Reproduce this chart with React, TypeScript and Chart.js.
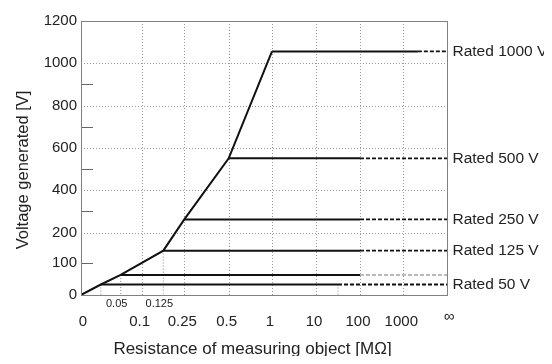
import React, { useEffect, useRef } from 'react';
import { Chart, registerables } from 'chart.js';

Chart.register(...registerables);

// ---- axis definitions (resistance axis is a custom piecewise scale) ----
const INF_R = 10000; // stand-in value for the "∞" end of the resistance axis
const xAxisKnotsR = [0, 0.05, 0.1, 0.125, 0.25, 0.5, 1, 10, 100, 1000, INF_R];
const xAxisKnotsPos = [0, 39.7, 60.7, 82.3, 103.3, 147.7, 191, 235, 279, 322.3, 366];
const xMainTickR = [0, 0.1, 0.25, 0.5, 1, 10, 100, 1000, INF_R];
const xMainTickLabels = ['0', '0.1', '0.25', '0.5', '1', '10', '100', '1000', '∞'];
const xSmallTickR = [0.05, 0.125];
const xSmallTickLabels = ['0.05', '0.125'];
const xGridR = [0.1, 0.25, 0.5, 1, 10, 100, 1000];

const yAxisKnotsV = [0, 100, 200, 1200];
const yAxisKnotsPos = [0, 32.7, 64.3, 282];
const yTickValues = [0, 100, 200, 300, 400, 500, 600, 700, 800, 900, 1000, 1200];
const yTickLabels = ['0', '100', '200', '', '400', '', '600', '', '800', '', '1000', '1200'];
const yGridV = [200, 400, 600, 800, 1000];
const yMinorV = [100, 300, 500, 700, 900];

// ---- data ----
const curveR = [0, 0.025, 0.05, 0.125, 0.25, 0.5, 1];
const curveV = [0, 33, 63, 141, 262, 551, 1056];

const ratedLabels = ['Rated 1000 V', 'Rated 500 V', 'Rated 250 V', 'Rated 125 V', '', 'Rated 50 V'];
const ratedV = [1056, 551, 262, 141, 63, 33];
const ratedStartR = [1, 0.5, 0.25, 0.125, 0.05, 0.025];
const ratedSolidEndR = [4000, 100, 100, 100, 100, 55];

const dropR = [0.025, 0.05, 0.125, 55];
const dropV = [33, 63, 141, 33];

const xTitle = 'Resistance of measuring object [MΩ]';
const yTitle = 'Voltage generated [V]';

function interp(v: number, ks: number[], ps: number[]): number {
  if (v <= ks[0]) return ps[0];
  for (let i = 0; i < ks.length - 1; i++) {
    if (v <= ks[i + 1]) {
      return ps[i] + ((v - ks[i]) / (ks[i + 1] - ks[i])) * (ps[i + 1] - ps[i]);
    }
  }
  return ps[ps.length - 1];
}
const xU = (r: number) => interp(r, xAxisKnotsR, xAxisKnotsPos);
const yU = (v: number) => interp(v, yAxisKnotsV, yAxisKnotsPos);

const FONT = "'Liberation Sans', Arial, sans-serif";

export default function App() {
  const ref = useRef<HTMLCanvasElement | null>(null);

  useEffect(() => {
    const canvas = ref.current;
    if (!canvas) return;

    const datasets: any[] = [];
    // main curve
    datasets.push({
      data: curveR.map((r, i) => ({ x: xU(r), y: yU(curveV[i]) })),
      borderColor: '#111',
      borderWidth: 2,
      pointRadius: 0,
      tension: 0,
    });
    // rated lines: solid part + dashed extension to ∞
    ratedV.forEach((v, i) => {
      const gray = ratedLabels[i] === '';
      datasets.push({
        data: [
          { x: xU(ratedStartR[i]), y: yU(v) },
          { x: xU(ratedSolidEndR[i]), y: yU(v) },
        ],
        borderColor: '#111',
        borderWidth: 2,
        pointRadius: 0,
      });
      datasets.push({
        data: [
          { x: xU(ratedSolidEndR[i]), y: yU(v) },
          { x: xU(INF_R), y: yU(v) },
        ],
        borderColor: gray ? '#777' : '#111',
        borderWidth: gray ? 1.2 : 1.8,
        borderDash: [4, 2],
        pointRadius: 0,
      });
    });
    // dotted drop lines
    dropR.forEach((r, i) => {
      datasets.push({
        data: [
          { x: xU(r), y: yU(dropV[i]) },
          { x: xU(r), y: 0 },
        ],
        borderColor: '#888',
        borderWidth: 1,
        borderDash: [1, 2],
        pointRadius: 0,
      });
    });

    const deco = {
      id: 'deco',
      beforeDatasetsDraw(chart: any) {
        const { ctx, chartArea: a, scales } = chart;
        const xs = scales.x;
        const ys = scales.y;
        ctx.save();
        ctx.strokeStyle = '#999';
        ctx.lineWidth = 1;
        ctx.setLineDash([1, 2]);
        yGridV.forEach((v) => {
          const py = Math.round(ys.getPixelForValue(yU(v))) + 0.5;
          ctx.beginPath();
          ctx.moveTo(a.left, py);
          ctx.lineTo(a.right, py);
          ctx.stroke();
        });
        xGridR.forEach((r) => {
          const px = Math.round(xs.getPixelForValue(xU(r))) + 0.5;
          ctx.beginPath();
          ctx.moveTo(px, a.top);
          ctx.lineTo(px, a.bottom);
          ctx.stroke();
        });
        ctx.restore();
      },
      afterDatasetsDraw(chart: any) {
        const { ctx, chartArea: a, scales } = chart;
        const xs = scales.x;
        const ys = scales.y;
        ctx.save();
        // minor ticks on y axis (inside)
        ctx.strokeStyle = '#666';
        ctx.lineWidth = 1;
        yMinorV.forEach((v) => {
          const py = Math.round(ys.getPixelForValue(yU(v))) + 0.5;
          ctx.beginPath();
          ctx.moveTo(a.left, py);
          ctx.lineTo(a.left + 12, py);
          ctx.stroke();
        });
        // frame
        ctx.strokeStyle = '#808080';
        ctx.strokeRect(Math.round(a.left) + 0.5, Math.round(a.top) + 0.5, Math.round(a.right - a.left), Math.round(a.bottom - a.top));

        ctx.fillStyle = '#222';
        ctx.textAlign = 'center';
        ctx.textBaseline = 'middle';
        // main x labels
        ctx.font = `15px ${FONT}`;
        xMainTickR.forEach((r, i) => {
          let px = xs.getPixelForValue(xU(r));
          let py = a.bottom + 27;
          if (i === 0) px += 2;
          else if (i === xMainTickR.length - 1) { px += 2; py -= 5; }
          else px -= 2;
          ctx.fillText(xMainTickLabels[i], px, py);
        });
        // small x labels
        ctx.font = `11px ${FONT}`;
        xSmallTickR.forEach((r, i) => {
          const px = xs.getPixelForValue(xU(r)) - 4;
          ctx.fillText(xSmallTickLabels[i], px, a.bottom + 9);
        });
        // rated labels
        ctx.font = `15.5px ${FONT}`;
        ctx.textAlign = 'left';
        ratedLabels.forEach((lab, i) => {
          if (!lab) return;
          ctx.fillText(lab, a.right + 5.5, ys.getPixelForValue(yU(ratedV[i])));
        });
        // x title
        ctx.font = `17px ${FONT}`;
        ctx.textAlign = 'center';
        ctx.textBaseline = 'alphabetic';
        ctx.fillText(xTitle, 244.5, 345.5);
        // y title
        ctx.translate(15.5, 162);
        ctx.rotate(-Math.PI / 2);
        ctx.font = `16.5px ${FONT}`;
        ctx.textBaseline = 'middle';
        ctx.fillText(yTitle, 0, 0);
        ctx.restore();
      },
    };

    const chart = new Chart(canvas, {
      type: 'line',
      data: { datasets },
      options: {
        animation: false,
        responsive: false,
        events: [],
        layout: { padding: { top: 5, right: 97, left: 0, bottom: 0 } },
        plugins: { legend: { display: false }, tooltip: { enabled: false } },
        scales: {
          x: {
            type: 'linear',
            min: 0,
            max: 366,
            grid: { display: false },
            border: { display: false },
            ticks: { display: false },
            afterFit: (s: any) => { s.height = 61; },
          },
          y: {
            type: 'linear',
            min: 0,
            max: 282,
            grid: { display: false, drawTicks: false },
            border: { display: false },
            afterBuildTicks: (s: any) => {
              s.ticks = yTickValues.map((v) => ({ value: yU(v) }));
            },
            ticks: {
              autoSkip: false,
              padding: 4,
              color: '#222',
              font: { family: FONT, size: 15 },
              callback: (_v: any, idx: number) => yTickLabels[idx],
            },
            afterFit: (s: any) => { s.width = 73; },
          },
        },
      },
      plugins: [deco],
    });
    return () => chart.destroy();
  }, []);

  return <canvas ref={ref} width={536} height={348} style={{ display: 'block' }} />;
}
